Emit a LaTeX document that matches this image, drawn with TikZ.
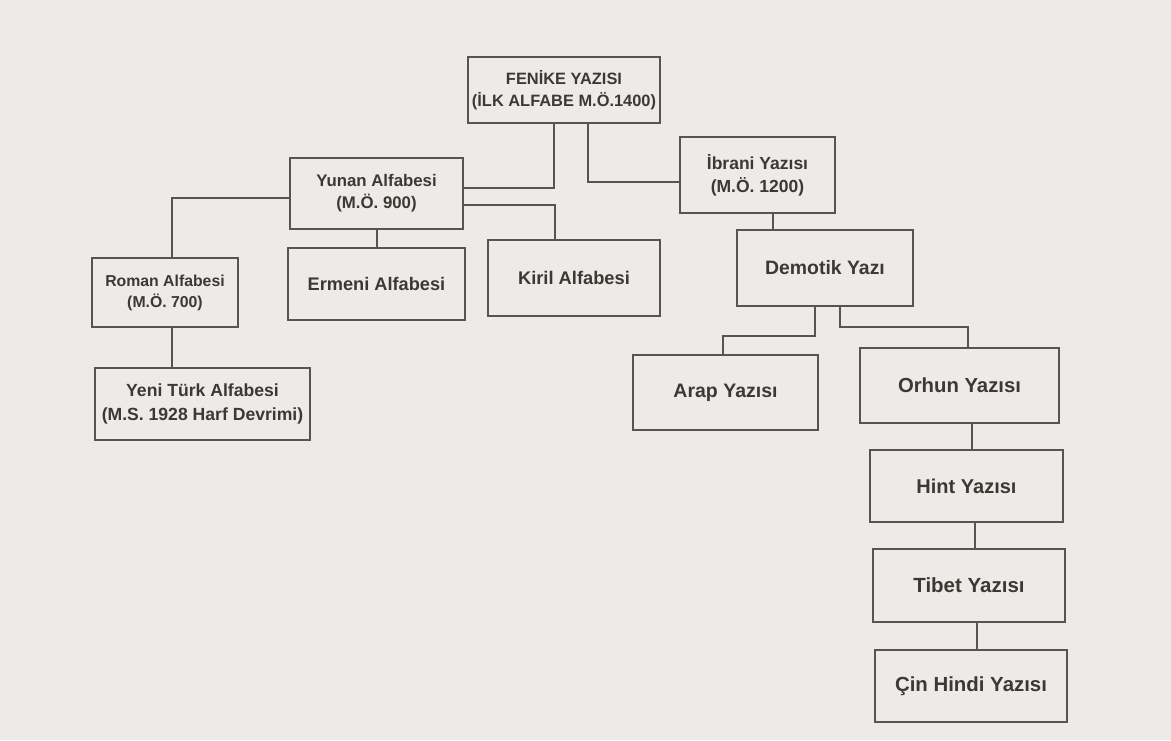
\documentclass[tikz,border=0pt]{standalone}
\usepackage{fontspec}
\setmainfont{Liberation Sans}
\definecolor{paper}{HTML}{ECEBE7}
\definecolor{ink}{HTML}{56554F}
\definecolor{txt}{HTML}{3A3934}
\begin{document}
\begin{tikzpicture}[x=1pt,y=-1pt,
  box/.style={draw=ink,line width=1.4pt,rectangle,inner sep=2pt,align=center,text=txt},
  fs/.style n args={2}{font=\bfseries\fontsize{#1}{#2}\selectfont},
  link/.style={draw=ink,line width=1.4pt}]
\fill[paper] (0,0) rectangle (1171,740);
\useasboundingbox (0,0) rectangle (1171,740);
\node[box,fs={16.4}{22},minimum width=192pt,minimum height=66pt] (fen) at (564,90) {FENİKE YAZISI\\(İLK ALFABE M.Ö.1400)};
\node[box,fs={16.8}{22},minimum width=173pt,minimum height=71pt] (yun) at (376.5,193.5) {Yunan Alfabesi\\(M.Ö. 900)};
\node[box,fs={17.5}{23},minimum width=155pt,minimum height=76pt] (ibr) at (757.5,175) {İbrani Yazısı\\(M.Ö. 1200)};
\node[box,fs={15.8}{21},minimum width=146pt,minimum height=69pt] (rom) at (165,292.5) {Roman Alfabesi\\(M.Ö. 700)};
\node[box,fs={18.2}{22},minimum width=177pt,minimum height=72pt] (erm) at (376.5,284) {Ermeni Alfabesi};
\node[box,fs={18.3}{22},minimum width=172pt,minimum height=76pt] (kir) at (574,278) {Kiril Alfabesi};
\node[box,fs={19.4}{23},minimum width=176pt,minimum height=76pt] (dem) at (825,268) {Demotik Yazı};
\node[box,fs={17.6}{24},minimum width=215pt,minimum height=72pt] (yeni) at (202.5,404) {Yeni Türk Alfabesi\\(M.S. 1928 Harf Devrimi)};
\node[box,fs={19.5}{23},minimum width=185pt,minimum height=75pt] (arap) at (725.5,392.5) {Arap Yazısı};
\node[box,fs={20.3}{24},minimum width=199pt,minimum height=75pt] (orh) at (959.5,385.5) {Orhun Yazısı};
\node[box,fs={20}{24},minimum width=193pt,minimum height=72pt] (hint) at (966.5,486) {Hint Yazısı};
\node[box,fs={20.5}{24},minimum width=192pt,minimum height=73pt] (tib) at (969,585.5) {Tibet Yazısı};
\node[box,fs={20.4}{24},minimum width=192pt,minimum height=72pt] (cin) at (971,686) {Çin Hindi Yazısı};
% connectors
\draw[link] (554,0 |- fen.south) -- (554,188) -- (yun.east |- 0,188);
\draw[link] (588,0 |- fen.south) -- (588,182) -- (ibr.west |- 0,182);
\draw[link] (yun.west |- 0,198) -- (172,198) -- (172,0 |- rom.north);
\draw[link] (377,0 |- yun.south) -- (377,0 |- erm.north);
\draw[link] (yun.east |- 0,205) -- (555,205) -- (555,0 |- kir.north);
\draw[link] (172,0 |- rom.south) -- (172,0 |- yeni.north);
\draw[link] (773,0 |- ibr.south) -- (773,0 |- dem.north);
\draw[link] (815,0 |- dem.south) -- (815,336) -- (723,336) -- (723,0 |- arap.north);
\draw[link] (840,0 |- dem.south) -- (840,327) -- (968,327) -- (968,0 |- orh.north);
\draw[link] (972,0 |- orh.south) -- (972,0 |- hint.north);
\draw[link] (975,0 |- hint.south) -- (975,0 |- tib.north);
\draw[link] (977,0 |- tib.south) -- (977,0 |- cin.north);
\end{tikzpicture}
\end{document}
